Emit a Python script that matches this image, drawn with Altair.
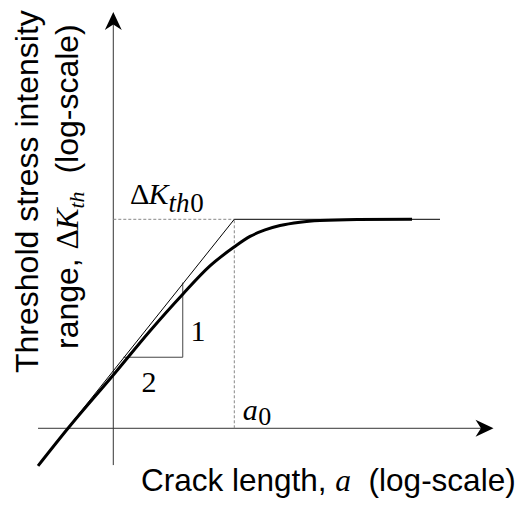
import altair as alt
import pandas as pd

# ---- values ----
# normalised log units: log(a) with a0 -> 1 ; log(dK) with dK_th0 -> 1 ; axes cross at (0, 0)
curve_x = [-0.622, -0.374, 0.0, 0.303, 0.576, 0.799, 0.998, 1.130, 1.254, 1.378, 1.543, 1.708, 2.014, 2.469]
curve_y = [-0.180, 0.0, 0.255, 0.466, 0.643, 0.777, 0.867, 0.918, 0.949, 0.970, 0.986, 0.994, 0.999, 1.0]

lefm_x = [-0.622, 1.0, 2.70]      # thin asymptote line (slope 1/2, then plateau)
lefm_y = [-0.176, 1.0, 1.0]

a0 = 1.0
dk_th0 = 1.0

axis_x_range = [-0.622, 3.068]
axis_y_range = [-0.176, 1.949]

tri_x = [0.084, 0.574, 0.574]
tri_y = [0.340, 0.340, 0.697]

SANS = "Liberation Sans"
SERIF = "Liberation Serif"

X = alt.Scale(domain=[-0.8702, 3.3694], nice=False, zero=False)
Y = alt.Scale(domain=[-0.3383, 2.0110], nice=False, zero=False)


def xe(f="x"):
    return alt.X(f"{f}:Q", scale=X, axis=None)


def ye(f="y"):
    return alt.Y(f"{f}:Q", scale=Y, axis=None)


layers = []

# axes
axes_df = pd.DataFrame({
    "x": [0.0, axis_x_range[0]], "x2": [0.0, axis_x_range[1]],
    "y": [axis_y_range[0], 0.0], "y2": [axis_y_range[1], 0.0],
})
layers.append(alt.Chart(axes_df).mark_rule(color="#333333", strokeWidth=1).encode(
    x=xe("x"), x2="x2:Q", y=ye("y"), y2="y2:Q"))

# dashed guides
guide_df = pd.DataFrame({"x": [0.0, a0], "x2": [a0, a0], "y": [dk_th0, 0.0], "y2": [dk_th0, dk_th0]})
layers.append(alt.Chart(guide_df).mark_rule(color="#888888", strokeWidth=1, strokeDash=[3, 2]).encode(
    x=xe("x"), x2="x2:Q", y=ye("y"), y2="y2:Q"))

# slope triangle
tri_df = pd.DataFrame({"x": tri_x, "y": tri_y, "i": [0, 1, 2]})
layers.append(alt.Chart(tri_df).mark_line(color="#444444", strokeWidth=1).encode(
    x=xe(), y=ye(), order="i:Q"))

# thin asymptotes
lefm_df = pd.DataFrame({"x": lefm_x, "y": lefm_y, "i": range(len(lefm_x))})
layers.append(alt.Chart(lefm_df).mark_line(color="black", strokeWidth=1).encode(
    x=xe(), y=ye(), order="i:Q"))

# thick curve
curve_df = pd.DataFrame({"x": curve_x, "y": curve_y, "i": range(len(curve_x))})
layers.append(alt.Chart(curve_df).mark_line(color="black", strokeWidth=3, interpolate="monotone").encode(
    x=xe(), y=ye(), order="i:Q"))

# arrow heads
arrow_df = pd.DataFrame({"x": [0.0, axis_x_range[1]], "y": [axis_y_range[1], 0.0], "ang": [0, 90]})
layers.append(alt.Chart(arrow_df).mark_point(
    shape="M0,-1L0.94,1L0,0.4L-0.94,1Z", filled=True, size=324, color="black",
    opacity=1, strokeWidth=0).encode(x=xe(), y=ye(), angle=alt.Angle("ang:Q", scale=None)))


def label(s, x, y, size, font, style="normal", dx=0, dy=0, align="left"):
    d = pd.DataFrame({"x": [x], "y": [y], "t": [s]})
    return alt.Chart(d).mark_text(font=font, fontSize=size, fontStyle=style, dx=dx, dy=dy,
                                  align=align, baseline="alphabetic", color="black").encode(
        x=xe(), y=ye(), text="t:N")


def ptext(s, px, py, size, font, style="normal", angle=0):
    d = pd.DataFrame({"t": [s]})
    kw = dict(font=font, fontSize=size, fontStyle=style, align="left",
              baseline="alphabetic", color="black")
    if angle:
        kw["angle"] = angle
    return alt.Chart(d).mark_text(**kw).encode(
        x=alt.value(px), y=alt.value(py), text="t:N")


# Delta K_th0 label
layers += [
    label("Δ", 0.0, dk_th0, 30, SERIF, dx=16.7, dy=-15),
    label("K", 0.0, dk_th0, 30, SERIF, "italic", dx=35.1, dy=-15),
    label("th", 0.0, dk_th0, 27, SERIF, "italic", dx=55.1, dy=-7.6),
    label("0", 0.0, dk_th0, 27, SERIF, dx=77, dy=-7.6),
]
# a0 label
layers += [
    label("a", a0, 0.0, 30, SERIF, "italic", dx=8.5, dy=-8.5),
    label("0", a0, 0.0, 26, SERIF, dx=24, dy=-3.5),
]
# slope triangle labels
layers += [
    label("1", tri_x[1], tri_y[0], 30, SERIF, dx=15.3, dy=-16, align="center"),
    label("2", tri_x[0], tri_y[0], 30, SERIF, dx=25.5, dy=34.7, align="center"),
]

# x title
layers += [
    ptext("Crack length,", 133, 483, 31.5, SANS),
    ptext("a", 327.3, 483, 31.5, SERIF, "italic"),
    ptext("(log-scale)", 360.6, 483, 31.5, SANS),
]

# y title (rotated, reading upward)
layers += [
    ptext("Threshold stress intensity", 30, 365, 32, SANS, angle=270),
    ptext("range,", 70, 341, 32, SANS, angle=270),
    ptext("Δ", 70, 241.4, 32, SERIF, angle=270),
    ptext("K", 70, 221.8, 32, SERIF, "italic", angle=270),
    ptext("th", 76, 200.5, 22, SERIF, "italic", angle=270),
    ptext("(log-scale)", 70, 165.6, 32, SANS, angle=270),
]

chart = alt.layer(*layers).properties(
    width=513, height=491, padding=0, autosize="none"
).configure_view(stroke=None)

chart.save("out.html", embed_options={"renderer": "svg", "actions": False})
